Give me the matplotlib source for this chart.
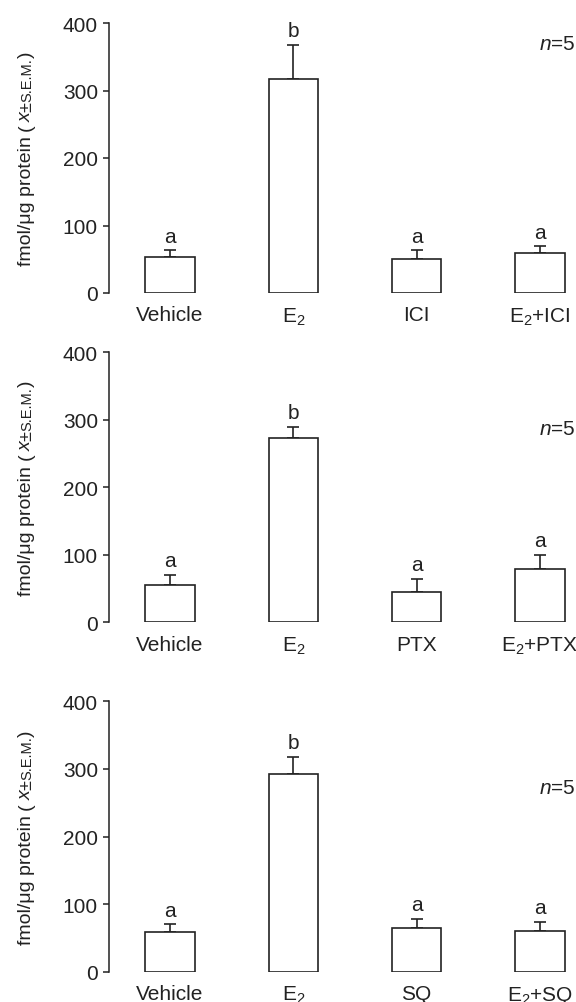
import matplotlib
matplotlib.use("Agg")
import matplotlib.pyplot as plt
import matplotlib.transforms as mtransforms

plt.rcParams['font.family'] = ['Liberation Sans', 'DejaVu Sans']
plt.rcParams['mathtext.fontset'] = 'custom'
plt.rcParams['mathtext.rm'] = 'Liberation Sans'
plt.rcParams['mathtext.it'] = 'Liberation Sans:italic'

# panel data (mean, upper S.E.M., letter)
labels_top = ["Vehicle", r"E$_2$", "ICI", r"E$_2$+ICI"]
means_top = [53, 317, 51, 60]
sem_top = [10, 50, 12, 9]
letters_top = ["a", "b", "a", "a"]

labels_mid = ["Vehicle", r"E$_2$", "PTX", r"E$_2$+PTX"]
means_mid = [55, 273, 45, 79]
sem_mid = [15, 17, 19, 21]
letters_mid = ["a", "b", "a", "a"]

labels_bot = ["Vehicle", r"E$_2$", "SQ", r"E$_2$+SQ"]
means_bot = [58, 293, 64, 60]
sem_bot = [12, 25, 14, 13]
letters_bot = ["a", "b", "a", "a"]

n_label_y = [369, 287, 272]

panels = [
    (labels_top, means_top, sem_top, letters_top),
    (labels_mid, means_mid, sem_mid, letters_mid),
    (labels_bot, means_bot, sem_bot, letters_bot),
]

W, H = 576, 1003
fig = plt.figure(figsize=(W / 100, H / 100), dpi=100)

# axes boxes in pixels: (y of 400, y of 0)
boxes = [(24, 294), (353.3, 623.3), (702.3, 972.7)]
ax_left, ax_right = 109, 576
line_col = "#222222"
fs = 15

for (labels, means, sems, letters), (ytop, ybot), ny in zip(panels, boxes, n_label_y):
    ax = fig.add_axes([ax_left / W, 1 - ybot / H, (ax_right - ax_left) / W, (ybot - ytop) / H])
    x = list(range(len(labels)))
    ax.bar(x, means, width=0.4, color="white", edgecolor=line_col, linewidth=1.2, zorder=2)
    ax.errorbar(x, means, yerr=[[0] * len(sems), sems], fmt="none", ecolor=line_col,
                elinewidth=1.2, capsize=4, capthick=1.2, zorder=1)
    for xi, m, s, let in zip(x, means, sems, letters):
        ax.annotate(let, (xi, m + s), xytext=(0, 3.5), textcoords="offset points",
                    ha="center", va="bottom", fontsize=fs, color=line_col)
    ax.set_xlim(-0.495, 3.293)
    ax.set_ylim(0, 400)
    ax.set_yticks([0, 100, 200, 300, 400])
    ax.set_xticks(x)
    ax.set_xticklabels(labels, fontsize=fs, color=line_col)
    ax.tick_params(axis="x", length=0, pad=9)
    ax.tick_params(axis="y", length=4, width=1.1, pad=4, labelsize=fs, colors=line_col)
    for side in ["top", "right", "bottom"]:
        ax.spines[side].set_visible(False)
    ax.spines["left"].set_color(line_col)
    ax.spines["left"].set_linewidth(1.1)
    ax.patch.set_alpha(0)
    trans = mtransforms.blended_transform_factory(ax.transAxes, ax.transData)
    ax.text(1.0, ny, r"$\it{n}$=5", transform=trans, ha="right", va="center",
            fontsize=fs, color=line_col)

# y-axis labels built from parts of different sizes
renderer = fig.canvas.get_renderer()
parts = [("fmol/\u03bcg protein ", 14, "normal", 0), ("(", 14, "normal", 3),
         ("x", 14, "italic", 0), ("\u00b1", 13, "normal", 0),
         ("S.E.M.", 10.5, "normal", 0), (")", 14, "normal", 0)]
base_x = 31 / W
for (ytop, ybot) in boxes:
    lengths = []
    for txt, size, style, gap in parts:
        t = fig.text(0, 0, txt, fontsize=size, style=style, rotation=90)
        lengths.append(t.get_window_extent(renderer).height + gap)
        t.remove()
    total = sum(lengths)
    ycen = (ytop + ybot) / 2
    y = (H - ycen) - total / 2
    for (txt, size, style, gap), L in zip(parts, lengths):
        fig.text(base_x, y / H, txt, fontsize=size, style=style, rotation=90,
                 rotation_mode="anchor", ha="left", va="baseline", color=line_col)
        y += L

fig.savefig("out.png", dpi=100)
